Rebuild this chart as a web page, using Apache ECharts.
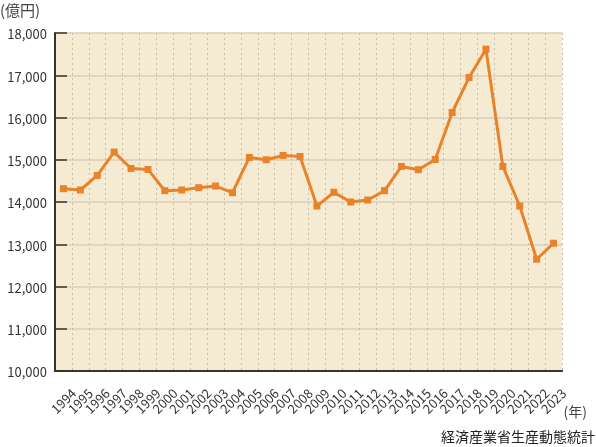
<!DOCTYPE html>
<html><head><meta charset="utf-8">
<script src="https://cdn.jsdelivr.net/npm/echarts@6/dist/echarts.min.js"></script>
<style>html,body{margin:0;padding:0;background:#fff;}#c{width:596px;height:447px;}</style>
</head><body><div id="c"></div>
<script>
const years = ['1994','1995','1996','1997','1998','1999','2000','2001','2002','2003','2004','2005','2006','2007','2008','2009','2010','2011','2012','2013','2014','2015','2016','2017','2018','2019','2020','2021','2022','2023'];
const values = [14315,14284,14629,15182,14794,14771,14267,14284,14338,14378,14220,15054,15000,15102,15078,13905,14229,14000,14047,14267,14842,14764,15005,16118,16946,17617,14842,13905,12645,13024];
const yMin = 10000, yMax = 18000, yStep = 1000;
const font = '"Noto Sans CJK JP", "Noto Sans", sans-serif';
const chart = echarts.init(document.getElementById('c'), null, {renderer:'canvas'});
chart.setOption({
  animation:false,
  textStyle:{fontFamily:font},
  grid:{left:55, top:33, right:34, bottom:76, show:true, backgroundColor:'#f5ebd3', borderWidth:0},
  graphic:[
    {type:'text', left:0, top:3, style:{text:'(億円)', font:'15px '+font, fill:'#444'}},
    {type:'text', right:9, top:405, style:{text:'(年)', font:'14px '+font, fill:'#444'}},
    {type:'text', right:1, top:430, style:{text:'経済産業省生産動態統計', font:'14px '+font, fill:'#222'}}
  ],
  xAxis:{type:'category', data:years, boundaryGap:true,
    axisLine:{lineStyle:{color:'#3a3228', width:2}},
    axisTick:{inside:true, length:8, lineStyle:{color:'#3a3228', width:1.5}},
    axisLabel:{rotate:45, fontSize:13, color:'#333', margin:30, interval:0, align:'center', verticalAlign:'middle', fontFamily:font},
    splitLine:{show:true, lineStyle:{color:'#c9bea6', type:[2,3], width:1}}
  },
  yAxis:{type:'value', min:yMin, max:yMax, interval:yStep,
    axisLine:{show:true, lineStyle:{color:'#3a3228', width:2}},
    axisTick:{show:true, inside:true, length:12, lineStyle:{color:'#3a3228', width:1.5}},
    axisLabel:{fontSize:13, color:'#333', margin:8, verticalAlign:'top', padding:[-5,0,0,0], fontFamily:font, formatter:v=>v.toLocaleString('en-US')},
    splitLine:{show:true, lineStyle:{color:'#d8cfbb', width:1.5}}
  },
  series:[{type:'line', data:values, symbol:'rect', symbolSize:7,
    lineStyle:{color:'#e8832a', width:3}, itemStyle:{color:'#e8832a'}}]
});
</script></body></html>
